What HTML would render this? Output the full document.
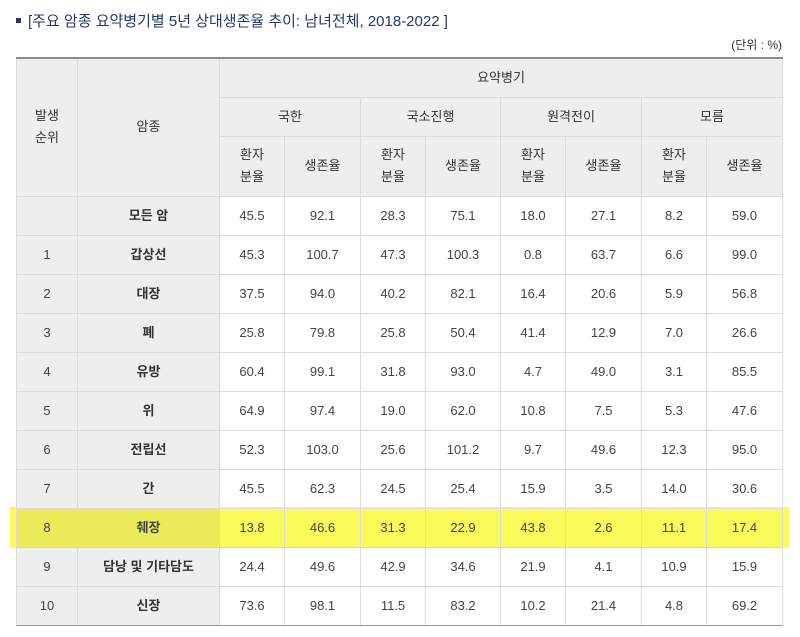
<!DOCTYPE html>
<html><head><meta charset="utf-8"><style>
body{margin:0;width:800px;height:637px;background:#fff;font-family:"Liberation Sans","Noto Sans CJK KR",sans-serif;position:relative;overflow:hidden}
.title{position:absolute;left:28px;top:10px;font-size:15px;color:#1f3a6e;white-space:nowrap}
.title:before{content:"";position:absolute;left:-12px;top:8px;width:5px;height:5px;background:#1f3a6e}
.unit{position:absolute;right:18px;top:36px;font-size:12px;color:#333}
table{position:absolute;left:16px;top:57px;border-collapse:collapse;table-layout:fixed;font-size:13px;color:#444;z-index:1}
td{border:1px solid #dcdcdc;text-align:center;padding:0;line-height:22px}
tr.top td{border-top:2px solid #8c8c8c}
tr.last td{border-bottom:1px solid #999}
.h{background:#eeeeee;color:#333}
td.g{background:#eeeeee}
td.b{font-weight:bold;color:#333}
tr.y td{background:#fafa5a;color:#444;border-top-color:#e6e650;border-bottom-color:#e6e650}
tr.y td.g{background:#ecec5a}
.hl{position:absolute;left:10px;top:507px;width:779px;height:41px;background:#fafa5a;z-index:0}
</style></head><body>
<div class="title">[주요 암종 요약병기별 5년 상대생존율 추이: 남녀전체, 2018-2022 ]</div>
<div class="unit">(단위 : %)</div>
<div class="hl"></div>
<table>
<colgroup><col style="width:61px"><col style="width:142px"><col style="width:65px"><col style="width:76px"><col style="width:65px"><col style="width:75px"><col style="width:65px"><col style="width:76px"><col style="width:65px"><col style="width:76px"></colgroup>
<tr class="top" style="height:39px"><td class="h" rowspan="3">발생<br>순위</td><td class="h" rowspan="3">암종</td><td class="h" colspan="8">요약병기</td></tr>
<tr style="height:39px"><td class="h" colspan="2">국한</td><td class="h" colspan="2">국소진행</td><td class="h" colspan="2">원격전이</td><td class="h" colspan="2">모름</td></tr>
<tr style="height:60px"><td class="h">환자<br>분율</td><td class="h">생존율</td><td class="h">환자<br>분율</td><td class="h">생존율</td><td class="h">환자<br>분율</td><td class="h">생존율</td><td class="h">환자<br>분율</td><td class="h">생존율</td></tr>
<tr style="height:39px"><td class="g"></td><td class="g b">모든 암</td><td>45.5</td><td>92.1</td><td>28.3</td><td>75.1</td><td>18.0</td><td>27.1</td><td>8.2</td><td>59.0</td></tr>
<tr style="height:39px"><td class="g">1</td><td class="g b">갑상선</td><td>45.3</td><td>100.7</td><td>47.3</td><td>100.3</td><td>0.8</td><td>63.7</td><td>6.6</td><td>99.0</td></tr>
<tr style="height:39px"><td class="g">2</td><td class="g b">대장</td><td>37.5</td><td>94.0</td><td>40.2</td><td>82.1</td><td>16.4</td><td>20.6</td><td>5.9</td><td>56.8</td></tr>
<tr style="height:39px"><td class="g">3</td><td class="g b">폐</td><td>25.8</td><td>79.8</td><td>25.8</td><td>50.4</td><td>41.4</td><td>12.9</td><td>7.0</td><td>26.6</td></tr>
<tr style="height:39px"><td class="g">4</td><td class="g b">유방</td><td>60.4</td><td>99.1</td><td>31.8</td><td>93.0</td><td>4.7</td><td>49.0</td><td>3.1</td><td>85.5</td></tr>
<tr style="height:39px"><td class="g">5</td><td class="g b">위</td><td>64.9</td><td>97.4</td><td>19.0</td><td>62.0</td><td>10.8</td><td>7.5</td><td>5.3</td><td>47.6</td></tr>
<tr style="height:39px"><td class="g">6</td><td class="g b">전립선</td><td>52.3</td><td>103.0</td><td>25.6</td><td>101.2</td><td>9.7</td><td>49.6</td><td>12.3</td><td>95.0</td></tr>
<tr style="height:39px"><td class="g">7</td><td class="g b">간</td><td>45.5</td><td>62.3</td><td>24.5</td><td>25.4</td><td>15.9</td><td>3.5</td><td>14.0</td><td>30.6</td></tr>
<tr class="y" style="height:39px"><td class="g">8</td><td class="g b">췌장</td><td>13.8</td><td>46.6</td><td>31.3</td><td>22.9</td><td>43.8</td><td>2.6</td><td>11.1</td><td>17.4</td></tr>
<tr style="height:39px"><td class="g">9</td><td class="g b">담낭 및 기타담도</td><td>24.4</td><td>49.6</td><td>42.9</td><td>34.6</td><td>21.9</td><td>4.1</td><td>10.9</td><td>15.9</td></tr>
<tr class="last" style="height:39px"><td class="g">10</td><td class="g b">신장</td><td>73.6</td><td>98.1</td><td>11.5</td><td>83.2</td><td>10.2</td><td>21.4</td><td>4.8</td><td>69.2</td></tr>
</table>
</body></html>
